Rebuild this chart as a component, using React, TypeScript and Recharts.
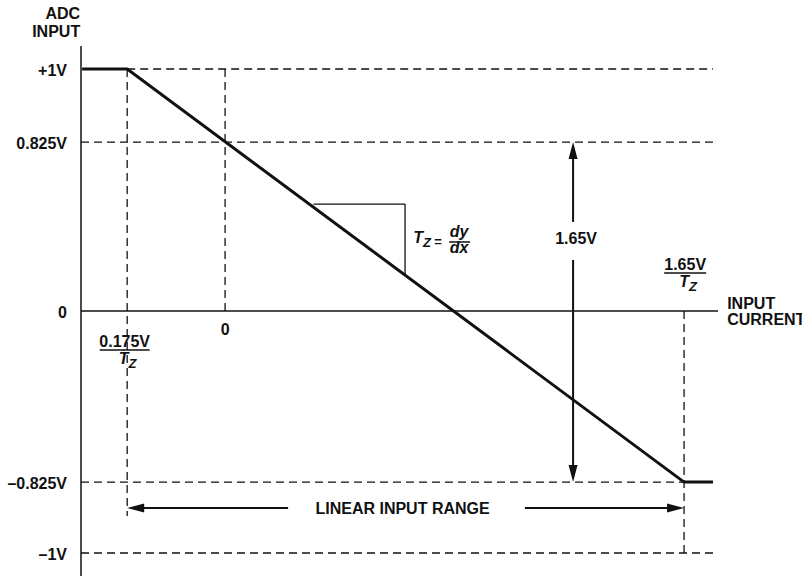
import React from "react";
import { LineChart, Line, XAxis, YAxis, ReferenceLine, ReferenceDot } from "recharts";

const FONT = '"Liberation Sans", Arial, Helvetica, sans-serif';
const INK = "#111";

// Schematic units: x = input current (V/Tz-like units, 0 at the "0" tick), y = ADC input (V-like units)
const curveX = [-0.514, -0.352, 1.65, 1.754];
const curveY = [1, 1, -0.707, -0.707];

const yTickValues = [1, 0.698, 0, -0.707, -1];
const yTickLabels = ["+1V", "0.825V", "0", "\u20130.825V", "\u20131V"];

const xTickValues = [-0.361, 0, 1.654];
const xTickLabels = ["0.175V", "0", "1.65V"];

// dashed guide segments [x1, y1, x2, y2]
const dashedGuides: number[][] = [
  [-0.352, 1, 1.754, 1],
  [-0.518, 0.698, 1.754, 0.698],
  [-0.518, -0.707, 1.65, -0.707],
  [-0.518, -1, 1.754, -1],
  [-0.352, 1, -0.352, -0.847],
  [0, 1, 0, 0],
  [1.65, 0, 1.65, -1],
];

// slope triangle [x1, y1, x2, y2]
const triangleSegments: number[][] = [
  [0.318, 0.442, 0.647, 0.442],
  [0.647, 0.442, 0.647, 0.15],
];

// arrow shafts [x1, y1, x2, y2]
const arrowShafts: number[][] = [
  [1.251, 0.66, 1.251, 0.368],
  [1.251, 0.211, 1.251, -0.67],
  [-0.30, -0.814, 0.2265, -0.814],
  [1.078, -0.814, 1.60, -0.814],
];

// arrow heads: [x, y, direction]
const arrowHeads: [number, number, string][] = [
  [1.251, 0.698, "up"],
  [1.251, -0.707, "down"],
  [-0.352, -0.814, "left"],
  [1.65, -0.814, "right"],
];

const spanLabelX = 1.262;
const spanLabelY = 0.3;
const rangeLabelX = 0.638;
const rangeLabelY = -0.814;

const curveData = curveX.map((x, i) => ({ x, y: curveY[i] }));

const textStyle = {
  fontFamily: FONT,
  fontWeight: 700,
  fontSize: 16,
  fill: INK,
};

const YTick = (props: any) => {
  const idx = yTickValues.indexOf(props.payload.value);
  return (
    <text x={67} y={props.y + 7} textAnchor="end" style={textStyle}>
      {yTickLabels[idx]}
    </text>
  );
};

const arrowShape = (dir: string) => (p: any) => {
  const { cx, cy } = p;
  const L = 17;
  const W = 4.5;
  let pts = "";
  if (dir === "up") pts = `${cx},${cy} ${cx - W},${cy + L} ${cx + W},${cy + L}`;
  if (dir === "down") pts = `${cx},${cy} ${cx - W},${cy - L} ${cx + W},${cy - L}`;
  if (dir === "left") pts = `${cx},${cy} ${cx + L},${cy - W} ${cx + L},${cy + W}`;
  if (dir === "right") pts = `${cx},${cy} ${cx - L},${cy - W} ${cx - L},${cy + W}`;
  return <polygon points={pts} fill={INK} />;
};

const fractionShape = (num: string, half: number) => (p: any) => {
  const { cx, cy } = p;
  return (
    <g>
      <text x={cx} y={cy - 3} textAnchor="middle" style={textStyle}>
        {num}
      </text>
      <line x1={cx - half} x2={cx + half} y1={cy} y2={cy} stroke={INK} strokeWidth={1.5} />
      <text x={cx - 6} y={cy + 14} textAnchor="start" style={{ ...textStyle, fontStyle: "italic" }}>
        T
        <tspan dy={4} style={{ fontSize: 13 }}>
          Z
        </tspan>
      </text>
    </g>
  );
};

const plainTextShape = (txt: string, dy: number, anchor: string = "middle") => (p: any) => (
  <text x={p.cx} y={p.cy + dy} textAnchor={anchor as any} style={textStyle}>
    {txt}
  </text>
);

const twoLineShape = (a: string, b: string, dy1: number, dy2: number, anchor: string) => (p: any) => (
  <g>
    <text x={p.cx} y={p.cy + dy1} textAnchor={anchor as any} style={textStyle}>
      {a}
    </text>
    <text x={p.cx} y={p.cy + dy2} textAnchor={anchor as any} style={textStyle}>
      {b}
    </text>
  </g>
);

const slopeLabelShape = (p: any) => {
  const { cx, cy } = p;
  const it = { ...textStyle, fontStyle: "italic" as const };
  return (
    <g>
      <text x={cx} y={cy} style={it}>
        T
        <tspan dy={4} style={{ fontSize: 13 }}>
          Z
        </tspan>
      </text>
      <text x={cx + 21} y={cy + 3} style={{ ...textStyle, fontSize: 13 }}>
        =
      </text>
      <text x={cx + 46} y={cy - 6} textAnchor="middle" style={it}>
        dy
      </text>
      <line x1={cx + 36} x2={cx + 57} y1={cy - 1} y2={cy - 1} stroke={INK} strokeWidth={1.5} />
      <text x={cx + 46} y={cy + 10} textAnchor="middle" style={it}>
        dx
      </text>
    </g>
  );
};

export default function App() {
  return (
    <div style={{ position: "absolute", left: 0, top: 0, width: 802, height: 576, background: "#fff" }}>
      <LineChart
        width={802}
        height={576}
        data={curveData}
        margin={{ top: 46, right: 84, bottom: 0, left: 0 }}
      >
        <XAxis dataKey="x" type="number" domain={[-0.518, 1.772]} hide allowDataOverflow />
        <YAxis
          type="number"
          domain={[-1.095, 1.095]}
          width={81}
          ticks={yTickValues}
          interval={0}
          tick={YTick}
          tickLine={false}
          axisLine={{ stroke: INK, strokeWidth: 1.5 }}
          allowDataOverflow
        />
        <ReferenceLine y={0} stroke={INK} strokeWidth={1.5} />
        {dashedGuides.map((s, i) => (
          <ReferenceLine
            key={"d" + i}
            segment={[
              { x: s[0], y: s[1] },
              { x: s[2], y: s[3] },
            ]}
            stroke={INK}
            strokeWidth={1.3}
            strokeDasharray="8 5"
            ifOverflow="visible"
          />
        ))}
        {triangleSegments.map((s, i) => (
          <ReferenceLine
            key={"t" + i}
            segment={[
              { x: s[0], y: s[1] },
              { x: s[2], y: s[3] },
            ]}
            stroke={INK}
            strokeWidth={1.3}
            ifOverflow="visible"
          />
        ))}
        {arrowShafts.map((s, i) => (
          <ReferenceLine
            key={"a" + i}
            segment={[
              { x: s[0], y: s[1] },
              { x: s[2], y: s[3] },
            ]}
            stroke={INK}
            strokeWidth={2}
            ifOverflow="visible"
          />
        ))}
        {arrowHeads.map((h, i) => (
          <ReferenceDot
            key={"h" + i}
            x={h[0]}
            y={h[1]}
            r={1}
            ifOverflow="visible"
            shape={arrowShape(h[2])}
          />
        ))}
        <Line
          dataKey="y"
          type="linear"
          stroke={INK}
          strokeWidth={3}
          dot={false}
          activeDot={false}
          isAnimationActive={false}
        />
        <ReferenceDot x={xTickValues[0]} y={-0.161} r={1} ifOverflow="visible" shape={fractionShape(xTickLabels[0], 25)} />
        <ReferenceDot x={xTickValues[1]} y={0} r={1} ifOverflow="visible" shape={plainTextShape(xTickLabels[1], 24)} />
        <ReferenceDot x={xTickValues[2]} y={0.157} r={1} ifOverflow="visible" shape={fractionShape(xTickLabels[2], 21)} />
        <ReferenceDot x={spanLabelX} y={spanLabelY} r={1} ifOverflow="visible" shape={plainTextShape("1.65V", 6)} />
        <ReferenceDot x={rangeLabelX} y={rangeLabelY} r={1} ifOverflow="visible" shape={plainTextShape("LINEAR INPUT RANGE", 6)} />
        <ReferenceDot x={0.676} y={0.281} r={1} ifOverflow="visible" shape={slopeLabelShape} />
        <ReferenceDot x={1.805} y={0} r={1} ifOverflow="visible" shape={twoLineShape("INPUT", "CURRENT", -2, 14, "start")} />
        <ReferenceDot x={-0.521} y={1.095} r={1} ifOverflow="visible" shape={twoLineShape("ADC", "INPUT", -27, -9, "end")} />
      </LineChart>
    </div>
  );
}
